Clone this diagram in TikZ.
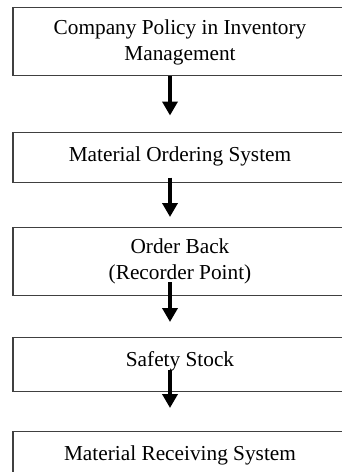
\documentclass[tikz,border=0pt]{standalone}
\usepackage{fontspec}
\setmainfont{Liberation Serif}
\usetikzlibrary{positioning,calc,arrows.meta}
\tikzset{>=stealth}
\tikzset{
  box/.style={draw=black!75,line width=1.2pt,minimum width=334pt,inner sep=0pt,
    align=center,anchor=north,text height=#1},
  box/.default=29pt,
  flow/.style={line width=4.6pt,-{Triangle[length=14pt,width=15pt]}}
}

\begin{document}
\begin{tikzpicture}[x=1pt,y=-1pt,font=\fontsize{21.3}{26}\selectfont]
\useasboundingbox (0,0) rectangle (341,472);
\node[box=53pt,text depth=15pt] (policy) at (180,7) {Company Policy in Inventory\\Management};
\node[box,text depth=21pt] (ordering) at (180,131.5) {Material Ordering System};
\node[box=52pt,text depth=16pt] (reorder) at (180,227) {Order Back\\(Recorder Point)};
\node[box,text depth=25pt] (safety) at (180,337) {Safety Stock};
\node[box,text depth=25pt] (receiving) at (180,431) {Material Receiving System};
% arrows between the stages
\draw[flow] ($(policy.south)+(-10,0)$) -- ($(ordering.north)+(-10,-16)$);
\draw[flow] ($(ordering.south)+(-10,-5)$) -- ($(reorder.north)+(-10,-10)$);
\draw[flow] ($(reorder.south)+(-10,-14)$) -- ($(safety.north)+(-10,-15)$);
\draw[flow] ($(safety.south)+(-10,-22)$) -- ($(receiving.north)+(-10,-23)$);
\end{tikzpicture}
\end{document}
